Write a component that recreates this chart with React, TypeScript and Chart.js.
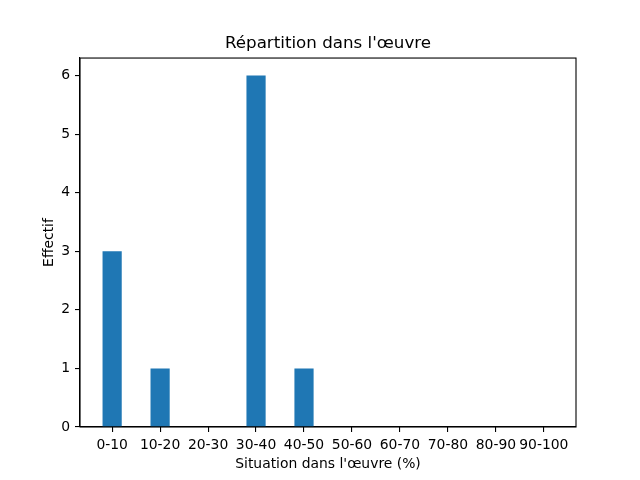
import React, { useEffect, useRef } from "react";
import { Chart, registerables } from "chart.js";

Chart.register(...registerables);

const categories = ["0-10", "10-20", "20-30", "30-40", "40-50", "50-60", "60-70", "70-80", "80-90", "90-100"];
const counts = [3, 1, 0, 6, 1, 0, 0, 0, 0, 0];
const yTicks = [0, 1, 2, 3, 4, 5, 6];

const FONT = "'DejaVu Sans', sans-serif";

// matplotlib draws all four spines, chart.js only the axis borders
const frame = {
  id: "frame",
  afterDraw(chart: Chart) {
    const { ctx, chartArea: a } = chart;
    ctx.save();
    ctx.strokeStyle = "#000";
    ctx.lineWidth = 1.1;
    ctx.strokeRect(a.left, a.top, a.right - a.left, a.bottom - a.top);
    ctx.restore();
  },
};

function App() {
  const chartRef = useRef<HTMLCanvasElement>(null);

  useEffect(() => {
    document.body.style.margin = "0";
    const ctx = chartRef.current?.getContext("2d");
    if (!ctx) return;

    const chart = new Chart(ctx, {
      type: "bar",
      data: {
        datasets: [
          {
            data: counts.map((v, i) => ({ x: i, y: v })),
            backgroundColor: "#1f77b4",
            borderWidth: 0,
            inflateAmount: 0,
            barPercentage: 0.4,
            categoryPercentage: 1,
          },
        ],
      },
      options: {
        responsive: false,
        animation: false,
        layout: { padding: { left: 0, right: 64, top: 0, bottom: 0 } },
        plugins: {
          legend: { display: false },
          tooltip: { enabled: false },
          title: {
            display: true,
            fullSize: false,
            text: "Répartition dans l'œuvre",
            color: "#000",
            font: { family: FONT, size: 16.7, weight: "normal", lineHeight: 1.2 },
            padding: { top: 34, bottom: 4 },
          },
        },
        scales: {
          x: {
            type: "linear",
            offset: false,
            min: -0.67,
            max: 9.67,
            afterBuildTicks: (s: any) => {
              s.ticks = categories.map((_, i) => ({ value: i }));
            },
            afterFit: (s: any) => {
              s.height = 53;
            },
            ticks: {
              color: "#000",
              font: { family: FONT, size: 13.9 },
              padding: 5,
              maxRotation: 0,
              autoSkip: false,
              callback: (v: any) => categories[Math.round(Number(v))] ?? "",
            },
            grid: { offset: false, drawOnChartArea: false, drawTicks: true, tickLength: 5, color: "#000", lineWidth: 1.1 },
            border: { color: "#000", width: 1.1 },
            title: {
              display: true,
              text: "Situation dans l'œuvre (%)",
              color: "#000",
              font: { family: FONT, size: 13.9, lineHeight: 1.2 },
              padding: { top: 0, bottom: 7 },
            },
          },
          y: {
            min: 0,
            max: 6.3,
            afterBuildTicks: (s: any) => {
              s.ticks = yTicks.map((v) => ({ value: v }));
            },
            afterFit: (s: any) => {
              s.width = 80;
            },
            ticks: {
              color: "#000",
              font: { family: FONT, size: 13.9 },
              padding: 5,
            },
            grid: { drawOnChartArea: false, drawTicks: true, tickLength: 5, color: "#000", lineWidth: 1.1 },
            border: { color: "#000", width: 1.1 },
            title: {
              display: true,
              text: "Effectif",
              color: "#000",
              font: { family: FONT, size: 13.9, lineHeight: 1.2 },
              padding: { top: 41, bottom: 41 },
            },
          },
        },
      },
      plugins: [frame],
    });

    return () => {
      chart.destroy();
    };
  }, []);

  return (
    <div style={{ width: 640, height: 480, background: "#fff" }}>
      <canvas ref={chartRef} width={640} height={480} />
    </div>
  );
}

export default App;
